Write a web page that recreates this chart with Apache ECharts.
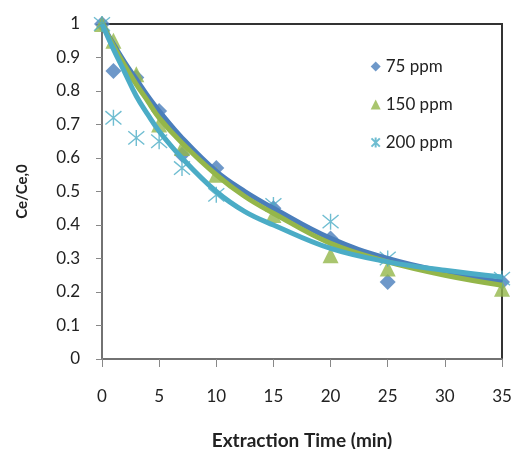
<!DOCTYPE html>
<html>
<head>
<meta charset="utf-8">
<script src="https://cdn.jsdelivr.net/npm/echarts@6/dist/echarts.min.js"></script>
<style>
  html, body { margin: 0; padding: 0; background: #fff; }
  #chart { width: 513px; height: 449px; }
</style>
</head>
<body>
<div id="chart"></div>
<script>
// Measured extraction ratios (Ce/Ce,0) at each sampling time
const sampleTimes = [0, 1, 3, 5, 7, 10, 15, 20, 25, 35];
const ppm75  = [1.00, 0.86, 0.84, 0.74, 0.61, 0.57, 0.45, 0.36, 0.23, 0.23];
const ppm150 = [1.00, 0.95, 0.85, 0.70, 0.63, 0.55, 0.43, 0.31, 0.27, 0.21];
const ppm200 = [1.00, 0.72, 0.66, 0.65, 0.57, 0.49, 0.46, 0.41, 0.30, 0.24];

// Fitted model curves
const fitTimes  = [0, 1, 2, 3, 4, 5, 7, 10, 12.5, 15, 20, 25, 30, 35];
const fit75     = [1, 0.94, 0.885, 0.835, 0.785, 0.74, 0.66, 0.56, 0.50, 0.45, 0.36, 0.30, 0.26, 0.23];
const fit150    = [1, 0.935, 0.875, 0.82, 0.77, 0.72, 0.645, 0.55, 0.485, 0.435, 0.345, 0.29, 0.25, 0.22];
const fit200    = [1, 0.925, 0.855, 0.785, 0.73, 0.68, 0.60, 0.50, 0.44, 0.40, 0.33, 0.29, 0.265, 0.245];

const xTicks = [0, 5, 10, 15, 20, 25, 30, 35];
const yTicks = [0, 0.1, 0.2, 0.3, 0.4, 0.5, 0.6, 0.7, 0.8, 0.9, 1];

const seriesNames = ['75 ppm', '150 ppm', '200 ppm'];
const colors = ['#4a7ebb', '#94b64a', '#4bacc6'];

const pairs = (xs, ys) => xs.map((x, i) => [x, ys[i]]);
const starPath = 'path://M0,0L10,10M10,0L0,10M5,-1L5,11';
const font = 'Lato, "Open Sans", sans-serif';

const chart = echarts.init(document.getElementById('chart'));

const fitSeries = [fit75, fit150, fit200].map((vals, i) => ({
  name: seriesNames[i] + ' fit',
  type: 'line',
  data: pairs(fitTimes, vals),
  smooth: 0.4,
  showSymbol: false,
  symbol: 'none',
  lineStyle: { color: colors[i], width: 5 },
  z: 3 + i,
  silent: true
}));

const pointSeries = [
  {
    name: seriesNames[0], type: 'scatter', data: pairs(sampleTimes, ppm75),
    symbol: 'diamond', symbolSize: 16,
    itemStyle: { color: colors[0] }, z: 2
  },
  {
    name: seriesNames[1], type: 'scatter', data: pairs(sampleTimes, ppm150),
    symbol: 'triangle', symbolSize: 16,
    itemStyle: { color: colors[1] }, z: 2
  },
  {
    name: seriesNames[2], type: 'scatter', data: pairs(sampleTimes, ppm200),
    symbol: starPath, symbolSize: 16,
    itemStyle: { color: 'none', borderColor: colors[2], borderWidth: 1.4 }, z: 2
  }
];

chart.setOption({
  animation: false,
  backgroundColor: '#fff',
  grid: {
    left: 102, top: 24, right: 11, bottom: 90,
    outerBoundsMode: 'none', containLabel: false,
    show: true, borderColor: '#333', borderWidth: 2, backgroundColor: 'transparent'
  },
  legend: {
    data: [
      { name: seriesNames[0], icon: 'diamond' },
      { name: seriesNames[1], icon: 'triangle' },
      { name: seriesNames[2], icon: starPath }
    ],
    orient: 'vertical',
    left: 364, top: 53,
    itemWidth: 10, itemHeight: 10, itemGap: 21,
    textStyle: { fontFamily: font, fontSize: 17, color: '#222' }
  },
  xAxis: {
    type: 'value', min: 0, max: 35, interval: 5,
    name: 'Extraction Time (min)', nameLocation: 'middle', nameGap: 72,
    nameTextStyle: { fontFamily: font, fontSize: 19, fontWeight: 'bold', color: '#222' },
    axisLine: { show: true, lineStyle: { color: '#888', width: 1.5 } },
    axisTick: { show: true, length: 8, lineStyle: { color: '#888' } },
    axisLabel: { fontFamily: font, fontSize: 17, color: '#222', margin: 29,
      formatter: v => xTicks.includes(v) ? String(v) : '' },
    splitLine: { show: false }
  },
  yAxis: {
    type: 'value', min: 0, max: 1, interval: 0.1,
    name: 'Ce/Ce,0', nameLocation: 'middle', nameGap: 72, nameRotate: 90,
    nameTextStyle: { fontFamily: font, fontSize: 15, fontWeight: 'bold', color: '#222' },
    axisLine: { show: true, lineStyle: { color: '#888', width: 1.5 } },
    axisTick: { show: true, length: 6, lineStyle: { color: '#888' } },
    axisLabel: { fontFamily: font, fontSize: 17, color: '#222', margin: 22,
      formatter: v => {
        const t = yTicks.find(y => Math.abs(y - v) < 1e-9);
        return t === undefined ? '' : String(t);
      } },
    splitLine: { show: false }
  },
  series: [...pointSeries, ...fitSeries]
});
</script>
</body>
</html>
